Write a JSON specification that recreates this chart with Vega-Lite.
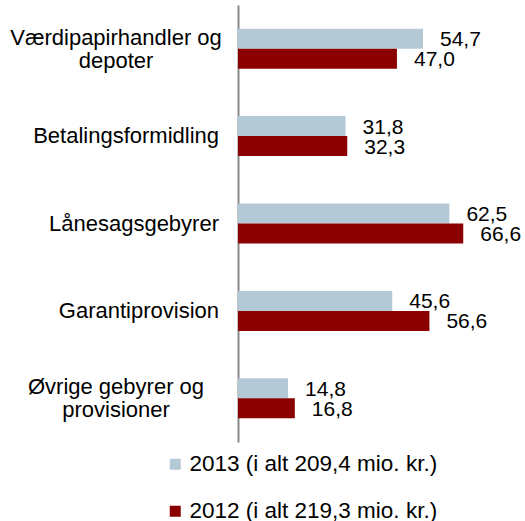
{
  "$schema": "https://vega.github.io/schema/vega-lite/v6.json",
  "autosize": "none",
  "width": 287,
  "height": 437,
  "padding": {"left": 238, "top": 5, "right": 0, "bottom": 79},
  "background": "white",
  "config": {
    "view": {"stroke": null},
    "font": "Liberation Sans",
    "locale": {"number": {"decimal": ",", "thousands": ".", "grouping": [3], "currency": ["", " kr."]}}
  },
  "datasets": {
    "bars": [
      {"cat": "Værdipapirhandler og depoter", "series": "2013 (i alt 209,4 mio. kr.)", "value": 54.7},
      {"cat": "Værdipapirhandler og depoter", "series": "2012 (i alt 219,3 mio. kr.)", "value": 47.0},
      {"cat": "Betalingsformidling", "series": "2013 (i alt 209,4 mio. kr.)", "value": 31.8},
      {"cat": "Betalingsformidling", "series": "2012 (i alt 219,3 mio. kr.)", "value": 32.3},
      {"cat": "Lånesagsgebyrer", "series": "2013 (i alt 209,4 mio. kr.)", "value": 62.5},
      {"cat": "Lånesagsgebyrer", "series": "2012 (i alt 219,3 mio. kr.)", "value": 66.6},
      {"cat": "Garantiprovision", "series": "2013 (i alt 209,4 mio. kr.)", "value": 45.6},
      {"cat": "Garantiprovision", "series": "2012 (i alt 219,3 mio. kr.)", "value": 56.6},
      {"cat": "Øvrige gebyrer og provisioner", "series": "2013 (i alt 209,4 mio. kr.)", "value": 14.8},
      {"cat": "Øvrige gebyrer og provisioner", "series": "2012 (i alt 219,3 mio. kr.)", "value": 16.8}
    ],
    "cats": [
      {"cat": "Værdipapirhandler og depoter", "label": "Værdipapirhandler og\ndepoter", "multi": true},
      {"cat": "Betalingsformidling", "label": "Betalingsformidling", "multi": false},
      {"cat": "Lånesagsgebyrer", "label": "Lånesagsgebyrer", "multi": false},
      {"cat": "Garantiprovision", "label": "Garantiprovision", "multi": false},
      {"cat": "Øvrige gebyrer og provisioner", "label": "Øvrige gebyrer og\nprovisioner", "multi": true}
    ]
  },
  "layer": [
    {
      "data": {"name": "bars"},
      "mark": {"type": "bar", "clip": false},
      "encoding": {
        "y": {"field": "cat", "type": "nominal", "sort": ["Værdipapirhandler og depoter", "Betalingsformidling", "Lånesagsgebyrer", "Garantiprovision", "Øvrige gebyrer og provisioner"], "scale": {"paddingInner": 0.542, "paddingOuter": 0.271}, "axis": {"title": null, "labels": false, "ticks": false, "domainColor": "#898989", "domainWidth": 2}},
        "yOffset": {"field": "series", "type": "nominal", "sort": ["2013 (i alt 209,4 mio. kr.)", "2012 (i alt 219,3 mio. kr.)"]},
        "x": {"field": "value", "type": "quantitative", "scale": {"domain": [0, 84.86], "nice": false}, "axis": null},
        "color": {"field": "series", "type": "nominal", "sort": ["2013 (i alt 209,4 mio. kr.)", "2012 (i alt 219,3 mio. kr.)"], "scale": {"range": ["#b4c9d6", "#8b0000"]},
          "legend": {"title": null, "orient": "none", "legendX": -74, "legendY": 448, "direction": "vertical", "symbolType": "square", "symbolSize": 121, "symbolStrokeWidth": 0, "symbolOpacity": 1, "labelFontSize": 22.5, "labelColor": "#000000", "labelLimit": 0, "labelOffset": 3, "rowPadding": 24, "labelFont": "Liberation Sans"}}
      }
    },
    {
      "data": {"name": "bars"},
      "mark": {"type": "text", "align": "left", "baseline": "middle", "dx": 17, "dy": 1.5, "fontSize": 21, "color": "#000000"},
      "encoding": {
        "y": {"field": "cat", "type": "nominal", "sort": ["Værdipapirhandler og depoter", "Betalingsformidling", "Lånesagsgebyrer", "Garantiprovision", "Øvrige gebyrer og provisioner"]},
        "yOffset": {"field": "series", "type": "nominal", "sort": ["2013 (i alt 209,4 mio. kr.)", "2012 (i alt 219,3 mio. kr.)"]},
        "x": {"field": "value", "type": "quantitative"},
        "text": {"field": "value", "type": "quantitative", "format": ".1f"}
      }
    },
    {
      "data": {"name": "cats"},
      "transform": [{"filter": "!datum.multi"}],
      "mark": {"type": "text", "align": "right", "baseline": "middle", "dx": -19, "fontSize": 22, "color": "#000000"},
      "encoding": {
        "y": {"field": "cat", "type": "nominal", "sort": ["Værdipapirhandler og depoter", "Betalingsformidling", "Lånesagsgebyrer", "Garantiprovision", "Øvrige gebyrer og provisioner"]},
        "x": {"datum": 0, "type": "quantitative"},
        "text": {"field": "label"}
      }
    },
    {
      "data": {"name": "cats"},
      "transform": [{"filter": "datum.multi"}],
      "mark": {"type": "text", "align": "center", "baseline": "middle", "dx": -122, "dy": -11, "fontSize": 22, "lineHeight": 23, "lineBreak": "\n", "color": "#000000"},
      "encoding": {
        "y": {"field": "cat", "type": "nominal", "sort": ["Værdipapirhandler og depoter", "Betalingsformidling", "Lånesagsgebyrer", "Garantiprovision", "Øvrige gebyrer og provisioner"]},
        "x": {"datum": 0, "type": "quantitative"},
        "text": {"field": "label"}
      }
    }
  ]
}
